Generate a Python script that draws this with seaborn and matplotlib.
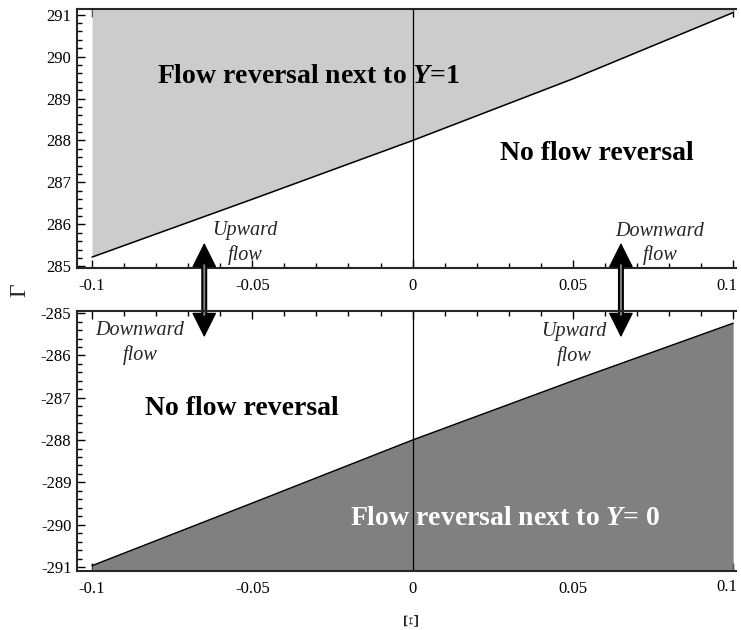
import matplotlib
matplotlib.use("Agg")
import matplotlib.pyplot as plt
from matplotlib.ticker import FixedLocator, FixedFormatter, MultipleLocator
from matplotlib.transforms import ScaledTranslation
import seaborn as sns
import pandas as pd

# ---- data ----
xi = [-0.1, -0.05, 0.0, 0.05, 0.1]
gamma_top = [285.22, 286.6, 288.0, 289.47, 291.05]
gamma_bot = [-290.97, -289.49, -288.0, -286.6, -285.24]
x_ticks = [-0.1, -0.05, 0.0, 0.05, 0.1]
x_ticklabels = ["-0.1", "-0.05", "0", "0.05", "0.1"]
y_ticks_top = [285, 286, 287, 288, 289, 290, 291]
y_ticks_bot = [-291, -290, -289, -288, -287, -286, -285]
arrow_x = [-0.065, 0.065]

sns.set_style("ticks")
plt.rcParams["font.family"] = ["Liberation Serif", "DejaVu Serif"]
plt.rcParams["axes.unicode_minus"] = False
plt.rcParams["mathtext.fontset"] = "custom"
plt.rcParams["mathtext.rm"] = "Liberation Serif:bold"
plt.rcParams["mathtext.it"] = "Liberation Serif:italic:bold"
plt.rcParams["mathtext.bf"] = "Liberation Serif:bold"

W, H = 741, 630
fig = plt.figure(figsize=(W / 100, H / 100), dpi=100)
ax_top = fig.add_axes([77 / W, 1 - 268 / H, (736 - 77) / W, (268 - 9) / H])
ax_bot = fig.add_axes([77 / W, 1 - 571 / H, (736 - 77) / W, (571 - 311) / H])

xlim = (-0.1047, 0.1009)
ylim_top = (284.96, 291.135)
ylim_bot = (-291.095, -284.95)

df_top = pd.DataFrame({"xi": xi, "gamma": gamma_top})
df_bot = pd.DataFrame({"xi": xi, "gamma": gamma_bot})

ax_top.fill_between(xi, gamma_top, ylim_top[1], color="#cccccc", lw=0, zorder=1)
sns.lineplot(data=df_top, x="xi", y="gamma", ax=ax_top, color="black", lw=1.1, zorder=3)
ax_bot.fill_between(xi, gamma_bot, ylim_bot[0], color="#808080", lw=0, zorder=1)
sns.lineplot(data=df_bot, x="xi", y="gamma", ax=ax_bot, color="black", lw=1.1, zorder=3)

for ax, yt, yl in [(ax_top, y_ticks_top, ylim_top), (ax_bot, y_ticks_bot, ylim_bot)]:
    ax.axvline(0, color="black", lw=0.9, zorder=2)
    ax.set_xlim(*xlim)
    ax.set_ylim(*yl)
    ax.patch.set_alpha(0)
    ax.set_xlabel("")
    ax.set_ylabel("")
    ax.spines["right"].set_visible(False)
    for s in ["left", "top", "bottom"]:
        ax.spines[s].set_linewidth(1.5)
        ax.spines[s].set_zorder(5)
    ax.xaxis.set_major_locator(FixedLocator(x_ticks))
    ax.xaxis.set_major_formatter(FixedFormatter(x_ticklabels))
    ax.xaxis.set_minor_locator(MultipleLocator(0.01))
    ax.yaxis.set_major_locator(FixedLocator(yt))
    ax.yaxis.set_major_formatter(FixedFormatter([str(v) for v in yt]))
    ax.yaxis.set_minor_locator(MultipleLocator(0.2))
    ax.tick_params(which="both", direction="in", top=True, bottom=True, left=True,
                   right=False, labeltop=False, labelright=False, width=1.0, colors="black")
    ax.tick_params(which="major", length=6)
    ax.tick_params(which="minor", length=3.5)
    ax.tick_params(axis="x", labelsize=12, pad=7.5)
    ax.tick_params(axis="y", labelsize=12, pad=4)

fig.canvas.draw()
for ax, dy in [(ax_top, 0), (ax_bot, 2)]:
    last = ax.get_xticklabels()[-1]
    last.set_transform(last.get_transform() + ScaledTranslation(-6 / 100, dy / 100, fig.dpi_scale_trans))

bold = dict(fontsize=20, fontweight="bold", family="Liberation Serif")
ax_top.text(-0.0798, 289.37, r"Flow reversal next to $\mathit{Y}$=1", ha="left", va="baseline",
            color="black", zorder=6, **bold)
ax_top.text(0.0272, 287.7, "No flow reversal", ha="left", va="center", color="black", zorder=6, **bold)
ax_bot.text(-0.0835, -287.25, "No flow reversal", ha="left", va="center", color="black", zorder=6, **bold)
ax_bot.text(-0.0195, -290.01, r"Flow reversal next to $\mathit{Y}$= 0", ha="left", va="baseline",
            color="white", zorder=6, **bold)

ital = dict(fontsize=14.5, style="italic", family="Liberation Serif", ha="center", va="center",
            linespacing=1.3, zorder=6)
ax_top.text(-0.0523, 285.56, "Upward\nflow", **ital)
ax_top.text(0.0772, 285.54, "Downward\nflow", **ital)
ax_bot.text(-0.085, -285.71, "Downward\nflow", **ital)
ax_bot.text(0.0504, -285.73, "Upward\nflow", **ital)

for ax_x in arrow_x:
    ax_top.annotate("", xy=(ax_x, -285.57), xycoords=ax_bot.transData,
                    xytext=(ax_x, 285.56), textcoords="data",
                    arrowprops=dict(arrowstyle="<|-|>,head_length=1.6,head_width=0.8",
                                    mutation_scale=10, color="black", lw=1,
                                    shrinkA=0, shrinkB=0), zorder=7)
    ax_top.annotate("", xy=(ax_x, -285.57), xycoords=ax_bot.transData,
                    xytext=(ax_x, 285.56), textcoords="data",
                    arrowprops=dict(arrowstyle="-", color="black", lw=4.3,
                                    shrinkA=13, shrinkB=13), zorder=7)
    ax_top.annotate("", xy=(ax_x, -285.57), xycoords=ax_bot.transData,
                    xytext=(ax_x, 285.56), textcoords="data",
                    arrowprops=dict(arrowstyle="-", color="#808080", lw=1.4,
                                    shrinkA=16, shrinkB=16), zorder=8)

fig.text(20 / W, 1 - 290 / H, "Γ", rotation=90, ha="center", va="center", fontsize=17)
fig.text(413 / W, 1 - 619 / H, "Ξ", rotation=90, ha="center", va="center", fontsize=16)

fig.savefig("out.png", dpi=100, facecolor="white")
